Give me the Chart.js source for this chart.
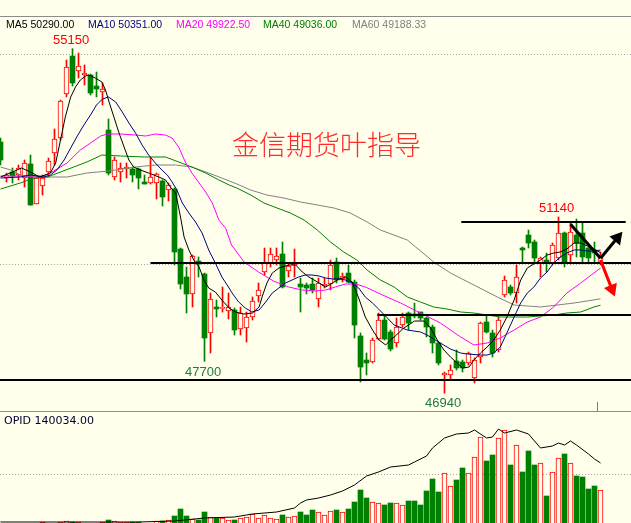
<!DOCTYPE html>
<html>
<head>
<meta charset="utf-8">
<title>OPID</title>
<script src="https://cdn.jsdelivr.net/npm/chart.js@4.4.1/dist/chart.umd.min.js"></script>
<style>
body { margin: 0; width: 631px; height: 523px; overflow: hidden; position: relative; background: #FFFFEC; font-family: "Liberation Sans", Arial, sans-serif; }
.rule { position: absolute; left: 0; width: 631px; height: 1px; background: #8C8C8C; }
.pane { position: absolute; left: 0; width: 631px; }
.pane canvas { display: block; }
.txt { position: absolute; white-space: nowrap; line-height: 1; }
.legend { font-size: 10.5px; top: 18.6px; }
.mark { font-size: 13px; }
</style>
</head>
<body>
<div class="rule" style="top:16px"></div>
<div class="pane" style="top:17px;height:394px"><canvas id="priceChart" width="631" height="394"></canvas></div>
<div class="rule" style="top:411px"></div>
<div class="pane" style="top:412px;height:111px"><canvas id="volumeChart" width="631" height="111"></canvas></div>

<div class="txt legend" style="left:6px;color:#000000">MA5 50290.00</div>
<div class="txt legend" style="left:88px;color:#000080">MA10 50351.00</div>
<div class="txt legend" style="left:176px;color:#FF00FF">MA20 49922.50</div>
<div class="txt legend" style="left:263px;color:#008000">MA40 49036.00</div>
<div class="txt legend" style="left:352px;color:#808080">MA60 49188.33</div>
<div class="txt mark" style="left:53px;top:33px;color:#FF0000">55150</div>
<div class="txt mark" style="left:185px;top:365px;color:#207A40">47700</div>
<div class="txt mark" style="left:425px;top:396px;color:#207A40">46940</div>
<div class="txt mark" style="left:539px;top:201px;color:#FF0000">51140</div>
<div class="txt" style="left:232px;top:130px;font-size:27px;font-weight:300;color:#FF2A2A;font-family:'Noto Sans CJK SC',sans-serif">金信期货叶指导</div>
<div class="txt" style="left:4px;top:414.7px;font-size:11px;color:#000033;font-family:'DejaVu Sans',sans-serif">OPID 140034.00</div>

<script>
const opens = [52926,52068,52211,52140,52068,52402,51449,51878,52211,52664,
53021,54070,54975,54618,54523,54523,54260,54118,53212,52092,
52211,52283,52283,52283,51973,51949,51949,51997,51782,51806,
50376,49709,49304,50090,49781,48375,48994,48960,48899,48923,
48470,48494,48756,49256,49828,50043,50114,50257,49852,49995,
49542,49518,49542,49185,49495,49542,50067,49662,49804,49590,
48303,47731,47684,48231,48684,48398,48136,48565,48851,48827,
48875,48732,48517,48136,47374,47374,47707,47684,47660,47302,
47803,48637,48375,47970,49280,49471,49328,50400,50710,50543,
50043,50114,50043,50162,50758,50233,50710,50758,50400,50353,
50043];
const highs = [53021,52187,52307,52378,52497,52616,52068,52140,52545,53236,
53927,54880,55150,55047,54761,54547,54594,54332,53474,52569,
52426,52426,52330,52307,52140,52545,52187,52021,51949,51830,
50400,49947,50233,50186,49804,49328,49161,49471,49328,48970,
48994,48875,49233,49566,50400,50400,50400,50543,50043,50376,
49685,49566,49685,49685,49685,50114,50162,49804,49995,49638,
48375,47898,48255,48851,48803,48446,48732,48851,48875,49089,
48875,48756,48565,48160,47445,47612,47970,47731,47922,47779,
48637,48803,48446,48756,49733,49518,49995,50424,50829,50591,
50186,50281,50519,51140,50782,50996,51091,50996,50424,50543,
50305];
const lows = [52378,51973,51949,52021,51854,51420,51449,51663,52092,52378,
52974,54000,54260,54451,54284,54046,54000,53808,52140,52021,
51973,52068,51973,51806,51925,51925,51568,51401,51520,49995,
49423,48852,48995,49709,47700,47898,48756,48875,48708,48327,
48327,48160,48684,49113,49757,49947,49995,49447,49709,49709,
48875,49304,49328,48994,49447,49399,49566,49590,49566,48255,
47207,47374,47660,48208,48208,47946,48041,48517,48446,48732,
48684,48279,47898,47612,46940,47255,47493,47445,47612,47183,
47660,48375,47803,47922,49233,49280,49089,50043,50400,50043,
49709,49828,49995,50114,49947,50019,50186,50043,50043,50043,
49995];
const closes = [52497,52140,52116,52307,52426,51425,52068,52068,52473,52998,
53903,54713,54332,54737,54570,54094,54189,54189,52187,52497,
52307,52330,52140,52068,51925,52092,52164,51616,51902,50305,
49542,49304,50210,50019,48255,49185,48947,48975,48994,48446,
48851,48756,49137,49399,50043,50257,50210,49471,49971,50043,
49471,49447,49399,49566,49542,49995,49638,49733,49590,48565,
47564,47660,48208,48684,48231,47993,48517,48756,48613,48780,
48732,48517,48136,47660,47421,47493,47541,47541,47898,47731,
48613,48398,47898,48684,49638,49328,49709,50353,50519,50162,
50162,50043,50472,50758,50043,50782,50519,50186,50162,50281,
50233];
const volumes = [500,500,500,500,500,500,500,2000,500,500,
2000,3000,2000,2000,500,500,500,2000,4000,3000,
2000,2000,2000,2000,500,500,3000,3000,4000,8000,
15000,8000,5000,4000,12000,7000,6000,6000,4000,4000,
6000,7000,10000,6000,9000,6000,5000,9000,7000,8000,
12000,9000,14000,12000,9000,13000,14000,12000,15000,22000,
34000,26000,22000,21000,19000,21000,21000,19000,23000,23000,
19000,33000,45000,32000,51000,38000,44000,56000,51000,67000,
87000,63000,69000,86000,94000,59000,79000,52000,73000,59000,
61000,28000,52000,66000,70000,61000,48000,47000,35000,38000,
34000];

const ma5X = [0,2,3.5,5,6.5,8.3,9.2,10,10.8,11.7,12.5,13.3,14.2,14.7,15.8,16.9,17.5,18.1,18.9,19.7,
20.6,21.4,22.2,23.3,24.7,26.4,27.5,28.3,29.2,30,30.6,31.4,32.2,33.1,33.9,34.7,35.8,36.9,38.1,39.2,
40.5,42,43.1,43.6,44.4,45.3,46.4,48.1,49.2,50.3,51.4,53.1,54.2,55.3,56.4,57.5,58.6,59.7,60.8,62,
63.1,64.2,65,66,67,68,69,70.6,71.7,72.8,73.9,75,76.1,77,78.1,78.9,80,81.1,82.2,83.3,
84.4,85.6,86.7,87.8,88.9,90,91.1,92.2,93.3,94.4,95.6,96.7,97.8,98.9,100];
const ma5V = [52092,52211,52307,52211,52092,52187,52426,52974,53522,53999,54237,54404,54499,54523,54451,54356,54165,53879,53522,53164,
52807,52497,52330,52259,52187,52092,52021,51854,51711,51139,50662,50353,50114,49947,49638,49447,49352,49161,48970,48875,
48827,48851,48994,49233,49566,49804,49924,49995,49995,49828,49709,49566,49471,49566,49662,49709,49590,49209,48756,48446,
48208,48089,48208,48327,48470,48565,48660,48660,48494,48208,47970,47803,47660,47541,47564,47731,47898,48041,48208,48446,
48756,49161,49638,49924,50019,50114,50233,50281,50305,50376,50519,50519,50448,50376,50290];

const ma10X = [0,3.3,5,7.2,8.3,9.4,10.6,11.7,12.8,13.9,15,16,17,18,19.2,20.3,21.4,22.5,23.6,24.7,
25.8,26.9,27.8,28.6,29.4,30.3,31.4,32.5,33.6,34.7,35.8,36.9,38.1,38.6,39.7,40.8,41.9,43.1,44.2,45.3,
46.4,47.5,48.6,49.7,50.8,51.9,53.1,54.2,55.3,56.4,57.5,58.6,59.7,60.8,62,63,64,65.6,67.8,70,
71.1,73.3,75,76.7,77.8,80,81.1,82.2,83.3,84.4,85.6,86.7,87.8,88.9,90,91.1,92.2,93.3,94.4,95.6,
96.7,97.8,98.9,100];
const ma10V = [52068,52092,52140,52092,52140,52259,52497,52783,53069,53331,53570,53808,53951,53999,53879,53641,53379,53141,52855,52616,
52426,52259,52140,51973,51782,51473,51234,51020,50758,50353,50043,49709,49447,49328,49113,48970,48875,48923,49113,49328,
49447,49566,49638,49709,49757,49757,49733,49685,49662,49662,49638,49566,49447,49233,49089,48947,48803,48565,48446,48398,
48327,48136,47993,47898,47874,47850,47850,47898,48041,48375,48756,49089,49328,49471,49685,49828,50043,50186,50281,50353,
50353,50329,50329,50351];

const ma20X = [0,7.2,8.3,11.1,13.3,15,16.7,17.8,20,22.5,24.2,25.8,27.5,28.6,29.7,30.8,31.9,33.1,34.2,35.3,
36.4,37.5,38.5,40.6,43,45.5,48,50.3,52.5,54.2,55.8,57.5,59.2,60.8,63.3,66.7,70,73.3,76.7,78.9,
81.1,83.3,85.6,87.8,90,92.2,94.4,96.7,98.9,100];
const ma20V = [52116,52116,52187,52426,52736,52902,53069,53117,53117,53093,53069,53117,53093,53021,52807,52450,52187,51949,51735,51473,
51067,50877,50472,50067,49828,49614,49471,49399,49375,49399,49471,49542,49542,49471,49304,49089,48851,48613,48279,48089,
48136,48255,48446,48637,48756,48994,49328,49566,49804,49922.5];

const ma40X = [0,3.3,5.6,7.8,10,12.2,14.4,16.9,20,24,27.5,29.7,31.9,34.2,36.4,38.1,39.4,41.7,43.9,46.1,
48.3,50.6,52.8,55,57.2,59.4,61.1,63.3,65.6,67.8,70,72.2,74.4,76.7,78.9,81.1,83.3,85.6,87.8,90,
92.2,94.4,96.7,98.9,100];
const ma40V = [51806,51949,52068,52092,52211,52330,52450,52616,52593,52569,52569,52450,52330,52187,52021,51902,51830,51663,51473,51353,
51234,51067,50829,50543,50305,50114,49876,49638,49471,49233,49113,48994,48947,48875,48851,48803,48756,48756,48756,48780,
48803,48851,48875,48994,49036];

const ma60X = [0,1.7,3.3,5.6,8.3,11.1,14.4,18,22.5,25.8,29.2,31.9,34.7,36.9,39.4,41.7,44.4,47.2,50,52.8,
55.6,58.3,61.1,63.3,67.8,72.2,75,78.9,82.8,85.6,90,95.6,100];
const ma60V = [52330,52259,52140,52092,52092,52092,52187,52235,52330,52378,52378,52330,52187,52068,51925,51782,51663,51592,51497,51425,
51353,51234,51020,50829,50591,50067,49804,49518,49233,49042,48994,49089,49188.33];

const opidX = [0,10,20,23,29,34,39,42,46,49,50,51,53,55,57,59,61,63,65,68,
69,71,72,74,76,78,79,81,82,83,84,86,88,90,92,93,94,95,96,98,99,100];
const opidV = [81000,81000,81000,81000,82000,85000,86000,89000,91000,95000,100000,103000,105000,108000,112000,118000,127000,131000,136000,138000,
141000,147000,155000,165000,169000,170000,173000,165000,166000,174000,170000,173000,169000,155000,157000,160000,158000,162000,158000,149000,144000,140034];

const levelPrices = [51020, 50043, 48803, 47255];
const levelFrom = [76.8, 25, 62.8, -1];
const levelTo = [104.2, 106, 106, 106];

const trendX = [95, 100];
const trendV = [50965, 50155];
const upArrowX = [100, 102.8];
const upArrowV = [50155, 50640];
const downArrowX = [100, 101.9];
const downArrowV = [50114, 49420];

const RED = '#FF0000';
const GREEN = '#008000';
const BG = '#FFFFEC';
const xMin = -1 / 12;
const xMax = xMin + 631 / 6;

const up = closes.map((c, i) => c >= opens[i]);

function points(xs, vs) {
    return xs.map((x, i) => ({ x: x, y: vs[i] }));
}

function maLine(xs, vs, color, order) {
    return {
        type: 'line',
        data: points(xs, vs),
        borderColor: color,
        borderWidth: 1,
        pointRadius: 0,
        tension: 0,
        order: order
    };
}

function gridAxis(min, max, lines) {
    return {
        display: true,
        position: 'right',
        min: min,
        max: max,
        ticks: { display: false },
        grid: { color: '#A8A8A8', drawTicks: false },
        border: { display: false, dash: [1, 2] },
        afterBuildTicks: scale => { scale.ticks = lines.map(v => ({ value: v })); }
    };
}

const xAxis = { type: 'linear', display: false, offset: false, min: xMin, max: xMax };

const priceDatasets = [
    {
        type: 'bar',
        data: closes.map((c, i) => ({ x: i, y: [lows[i], highs[i]] })),
        backgroundColor: up.map(u => u ? RED : GREEN),
        barThickness: 1,
        grouped: false,
        order: 20
    },
    {
        type: 'bar',
        data: closes.map((c, i) => ({ x: i, y: [opens[i], c] })),
        backgroundColor: up.map(u => u ? BG : GREEN),
        borderColor: up.map(u => u ? RED : GREEN),
        borderWidth: up.map(u => u ? 1 : 0),
        borderSkipped: false,
        minBarLength: 1,
        barThickness: 5,
        grouped: false,
        order: 19
    },
    maLine(ma60X, ma60V, '#808080', 9),
    maLine(ma40X, ma40V, '#008000', 8),
    maLine(ma20X, ma20V, '#FF00FF', 7),
    maLine(ma10X, ma10V, '#000080', 6),
    maLine(ma5X, ma5V, '#000000', 5)
];

levelPrices.forEach((p, k) => {
    priceDatasets.push({
        type: 'line',
        data: [{ x: levelFrom[k], y: p }, { x: levelTo[k], y: p }],
        borderColor: '#000000',
        borderWidth: 2,
        pointRadius: 0,
        order: 3
    });
});

priceDatasets.push({
    type: 'line',
    data: points(trendX, trendV),
    borderColor: '#000000',
    borderWidth: 3,
    pointRadius: 0,
    order: 1
});
priceDatasets.push({
    type: 'line',
    data: points(upArrowX, upArrowV),
    borderColor: '#000000',
    backgroundColor: '#000000',
    borderWidth: 3,
    pointStyle: 'triangle',
    pointRadius: [0, 5],
    rotation: [0, 40],
    order: 1
});
priceDatasets.push({
    type: 'line',
    data: points(downArrowX, downArrowV),
    borderColor: '#FF0000',
    backgroundColor: '#FF0000',
    borderWidth: 3,
    pointStyle: 'triangle',
    pointRadius: [0, 5],
    rotation: [0, 158],
    order: 0
});
priceDatasets.push({
    type: 'line',
    data: [{ x: 99.5, y: 46730 }, { x: 99.5, y: 46400 }],
    borderColor: '#808080',
    borderWidth: 1,
    pointRadius: 0,
    order: 2
});

const priceChart = new Chart(document.getElementById('priceChart'), {
    type: 'bar',
    data: { datasets: priceDatasets },
    options: {
        responsive: false,
        animation: false,
        layout: { padding: 0, autoPadding: false },
        plugins: { legend: { display: false }, tooltip: { enabled: false } },
        scales: {
            x: xAxis,
            y: gridAxis(46516, 55905, [50000, 55000])
        }
    }
});

const volumeChart = new Chart(document.getElementById('volumeChart'), {
    type: 'bar',
    data: {
        datasets: [
            {
                type: 'bar',
                data: volumes.map((v, i) => ({ x: i, y: v })),
                backgroundColor: up.map(u => u ? BG : GREEN),
                borderColor: up.map(u => u ? RED : GREEN),
                borderWidth: up.map(u => u ? 1 : 0),
                barThickness: 5,
                grouped: false,
                order: 2
            },
            {
                type: 'line',
                data: points(opidX, opidV),
                yAxisID: 'y2',
                borderColor: '#000000',
                borderWidth: 1,
                pointRadius: 0,
                order: 1
            }
        ]
    },
    options: {
        responsive: false,
        animation: false,
        layout: { padding: 0, autoPadding: false },
        plugins: { legend: { display: false }, tooltip: { enabled: false } },
        scales: {
            x: xAxis,
            y: gridAxis(1000, 112000, [50000]),
            y2: { display: false, min: 80000, max: 191000 }
        }
    }
});
</script>
</body>
</html>
